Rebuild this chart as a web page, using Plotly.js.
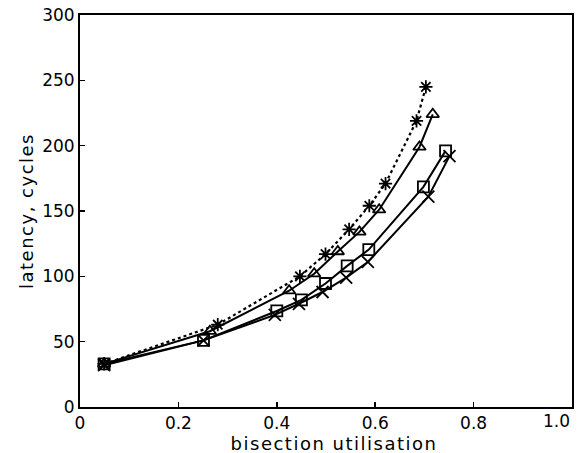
<!DOCTYPE html>
<html>
<head>
<meta charset="utf-8">
<script src="https://cdn.plot.ly/plotly-3.0.1.min.js"></script>
<style>
html,body{margin:0;padding:0;background:#fff;}
#chart{width:578px;height:453px;}
#chart text.xtitle, #chart text.ytitle{letter-spacing:1.5px;}
#chart text.xtitle{transform:translate(8px,1px);}
</style>
</head>
<body>
<div id="chart"></div>
<script>
// Series: asterisk (dotted)
const starX = [0.049, 0.280, 0.447, 0.499, 0.547, 0.588, 0.621, 0.684, 0.703];
const starY = [33, 63, 100, 117, 136, 154, 171, 219, 245];
// Series: triangles (solid)
const triX = [0.049, 0.264, 0.425, 0.476, 0.524, 0.568, 0.608, 0.690, 0.717];
const triY = [33, 58, 89, 102, 119, 134, 151, 199, 224];
// Series: squares (solid)
const sqX = [0.049, 0.251, 0.400, 0.450, 0.499, 0.543, 0.587, 0.698, 0.743];
const sqY = [33, 51, 73.5, 82, 94.5, 108, 120.5, 168.5, 196];
// Series: crosses (solid)
const crX = [0.049, 0.251, 0.396, 0.445, 0.493, 0.541, 0.585, 0.708, 0.751];
const crY = [32, 51, 70.5, 79, 88, 99, 111, 161, 192];

const xTickVals = [0, 0.2, 0.4, 0.6, 0.8, 1.0];
const xTickText = ['0', '0.2', '0.4', '0.6', '0.8', ''];
const xLastTick = '1.0';   // drawn right-aligned at the axis end so it is not clipped
const yTickVals = [0, 50, 100, 150, 200, 250, 300];

const tickFont = {family: 'DejaVu Sans, sans-serif', size: 17, color: '#000'};
const titleFont = {family: 'DejaVu Sans, sans-serif', size: 18, color: '#000'};

function tr(x, y, sym, dash, size) {
  return {
    x: x, y: y, type: 'scatter', mode: 'lines+markers',
    line: {color: '#000', width: dash === 'solid' ? 2 : 2.2, dash: dash},
    marker: {symbol: sym, size: size, color: '#000', line: {color: '#000', width: 1.8}},
    showlegend: false
  };
}

const data = [
  tr(crX, crY, 'x-thin-open', 'solid', 12),
  tr(sqX, sqY, 'square-open', 'solid', 11),
  tr(triX, triY, 'triangle-up-open', 'solid', 11),
  tr(starX, starY, 'asterisk-open', 'dot', 11)
];

const layout = {
  width: 578, height: 453,
  margin: {l: 80, r: 6, t: 15, b: 46},
  paper_bgcolor: '#fff', plot_bgcolor: '#fff',
  font: tickFont,
  xaxis: {
    range: [0, 1.0], tickvals: xTickVals, ticktext: xTickText,
    showgrid: false, zeroline: false, showline: true, mirror: true,
    linecolor: '#000', linewidth: 2, ticks: 'inside', ticklen: 5, tickwidth: 1.5, tickcolor: '#000',
    tickfont: tickFont,
    title: {text: 'bisection utilisation', font: titleFont}
  },
  yaxis: {
    range: [0, 300], tickvals: yTickVals,
    showgrid: false, zeroline: false, showline: true, mirror: true,
    linecolor: '#000', linewidth: 2, ticks: 'inside', ticklen: 5, tickwidth: 1.5, tickcolor: '#000',
    tickfont: tickFont,
    title: {text: 'latency, cycles', font: titleFont}
  },
  annotations: [{
    text: xLastTick, x: xTickVals[5], xref: 'x', y: 0, yref: 'paper',
    xanchor: 'right', yanchor: 'top', yshift: -2, showarrow: false, font: tickFont
  }]
};

Plotly.newPlot('chart', data, layout, {displayModeBar: false, staticPlot: true});
</script>
</body>
</html>
